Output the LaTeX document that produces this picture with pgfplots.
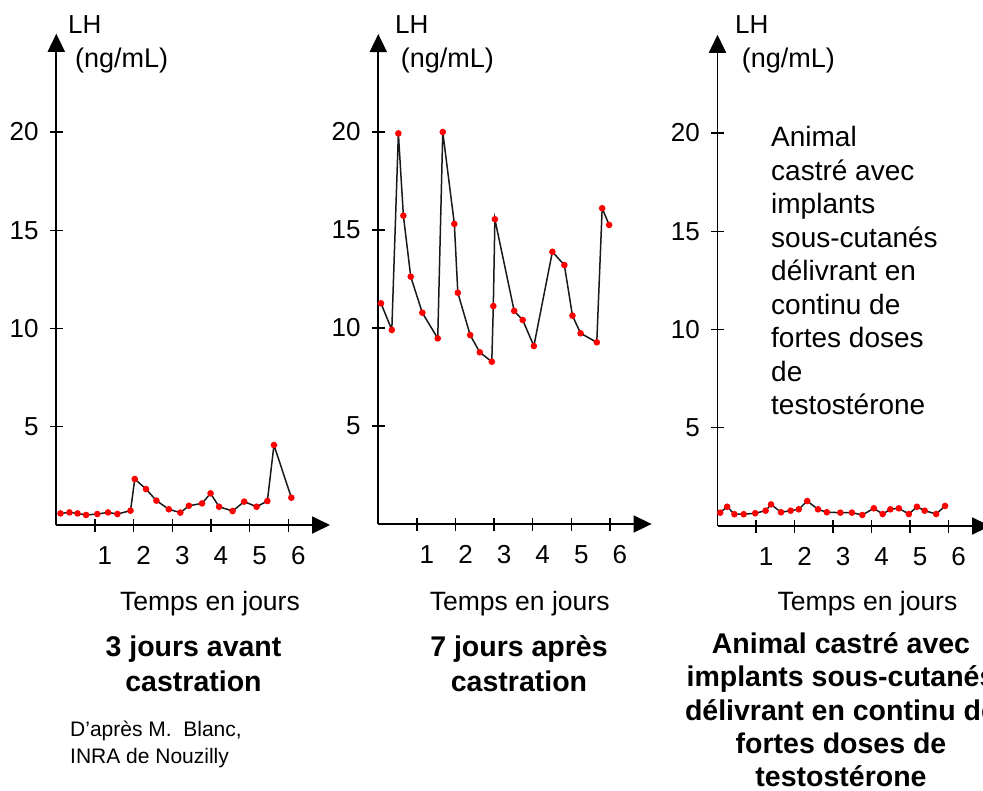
\documentclass[border=0pt]{standalone}
\usepackage{pgfplots}
\pgfplotsset{compat=1.18}
\usetikzlibrary{arrows.meta}
\usepackage{fontspec}
\setmainfont{Liberation Sans}
\newcommand\fsz[1]{\fontsize{#1}{#1}\selectfont}

\pgfplotsset{
  lhpanel/.style={
    anchor=south west,
    axis lines=left, xmin=0, xmax=7.08, ymin=0, ymax=25,
    xtick={1,...,6}, ytick={5,10,15,20},
    tick align=center, major tick length=13bp,
    every tick/.style={black, line width=1.3bp},
    axis line style={line width=1.8bp, -{Triangle[length=18bp,width=17bp]}},
    tick label style={font=\fsz{26bp}},
    /pgf/number format/assume math mode=true,
    xticklabel style={anchor=north, inner sep=0pt, xshift=10bp, yshift=-15bp},
    yticklabel style={anchor=east, inner sep=0pt, xshift=-11bp},
    clip=false,
  },
  lhline/.style={line width=1.5bp, black!90, mark=*, mark size=2.5bp,
                 mark options={draw=red, fill=red}},
}

\begin{document}
\begin{tikzpicture}[every node/.style={inner sep=0pt}]
\path[use as bounding box] (0,0) rectangle (983bp,-791bp);

% 3 jours avant castration
\begin{axis}[lhpanel, at={(56.3bp,-525bp)}, x=38.66bp, y=19.65bp]
\addplot[lhline] coordinates {
  (0.11,0.59) (0.34,0.64) (0.55,0.59) (0.77,0.51) (1.06,0.56) (1.34,0.64)
  (1.58,0.56) (1.92,0.73) (2.03,2.34) (2.32,1.83) (2.59,1.24) (2.91,0.80)
  (3.21,0.63) (3.43,0.98) (3.77,1.10) (3.99,1.61) (4.21,0.93) (4.56,0.71)
  (4.86,1.19) (5.18,0.93) (5.46,1.22) (5.63,4.07) (6.08,1.39)};
\end{axis}

% 7 jours apres castration
\begin{axis}[lhpanel, at={(378.3bp,-524bp)}, x=38.6bp, y=19.6bp]
\addplot[lhline] coordinates {
  (0.07,11.26) (0.35,9.90) (0.52,19.93) (0.65,15.73) (0.84,12.62) (1.14,10.78)
  (1.54,9.47) (1.67,20.0) (1.97,15.31) (2.06,11.80) (2.38,9.64) (2.63,8.76)
  (2.94,8.28) (2.98,11.12) (3.02,15.55) (3.52,10.87) (3.74,10.41) (4.03,9.08)
  (4.51,13.89) (4.82,13.21) (5.03,10.63) (5.24,9.73) (5.66,9.27) (5.80,16.11)
  (5.98,15.26)};
\end{axis}

% animal castre avec implants
\begin{axis}[lhpanel, at={(717.5bp,-526bp)}, x=38.5bp, y=19.65bp]
\addplot[lhline] coordinates {
  (0.07,0.68) (0.25,0.98) (0.44,0.60) (0.68,0.60) (0.98,0.65) (1.25,0.78)
  (1.39,1.10) (1.65,0.70) (1.90,0.78) (2.11,0.85) (2.33,1.27) (2.61,0.85)
  (2.84,0.70) (3.19,0.68) (3.49,0.68) (3.76,0.56) (4.06,0.90) (4.29,0.61)
  (4.49,0.85) (4.71,0.90) (4.97,0.61) (5.18,0.98) (5.38,0.78) (5.68,0.61)
  (5.91,1.02)};
\end{axis}

% axis titles
\foreach \lx/\ux in {68/75, 395/400.7, 735/741.7} {
  \node[anchor=base west, font=\fsz{26bp}] at (\lx bp,-33bp) {LH};
  \node[anchor=base west, font=\fsz{27bp}] at (\ux bp,-67bp) {(ng/mL)};
}
\foreach \cx in {210, 519.7, 867.5}
  \node[anchor=base, font=\fsz{26.5bp}] at (\cx bp,-610bp) {Temps en jours};

% panel captions
\begin{scope}[every node/.append style={anchor=base, font=\fsz{28.5bp}\bfseries}]
\node at (193.5bp,-656.7bp) {3 jours avant};
\node at (193.5bp,-691.7bp) {castration};
\node at (519bp,-656.7bp) {7 jours après};
\node at (519bp,-691.7bp) {castration};
\node at (841bp,-653.3bp) {Animal castré avec};
\node at (841bp,-686.7bp) {implants sous-cutanés};
\node at (841bp,-720.1bp) {délivrant en continu de};
\node at (841bp,-753.5bp) {fortes doses de};
\node at (841bp,-786.9bp) {testostérone};
\end{scope}

% note inside third panel
\begin{scope}[every node/.append style={anchor=base west, font=\fsz{28bp}}]
\node at (771bp,-146.7bp) {Animal};
\node at (771bp,-180.2bp) {castré avec};
\node at (771bp,-213.7bp) {implants};
\node at (771bp,-247.2bp) {sous-cutanés};
\node at (771bp,-280.7bp) {délivrant en};
\node at (771bp,-314.2bp) {continu de};
\node at (771bp,-347.7bp) {fortes doses};
\node at (771bp,-381.2bp) {de};
\node at (771bp,-414.7bp) {testostérone};
\end{scope}

% source
\node[anchor=base west, font=\fsz{21bp}] at (70bp,-736.7bp) {D\symbol{39}après M.~~Blanc,};
\node[anchor=base west, font=\fsz{21bp}] at (70bp,-763.3bp) {INRA de Nouzilly};
\end{tikzpicture}
\end{document}
